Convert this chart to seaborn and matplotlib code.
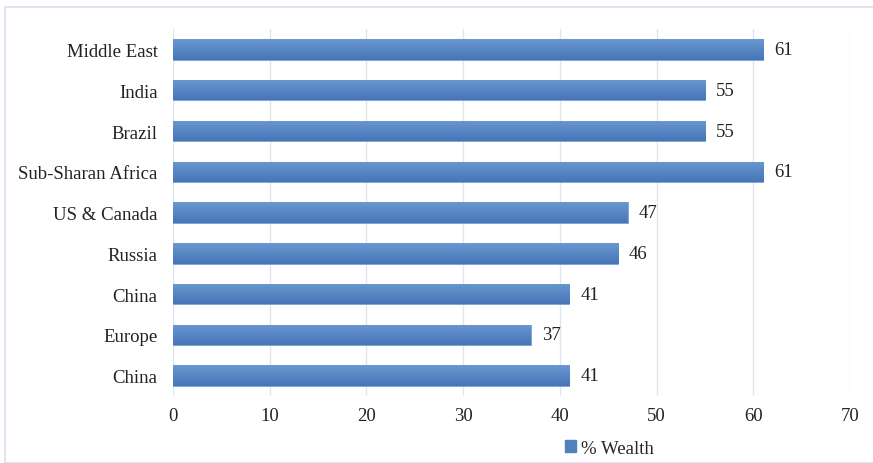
import matplotlib
matplotlib.use("Agg")
import matplotlib.pyplot as plt
import seaborn as sns
import numpy as np
import pandas as pd
from matplotlib.colors import LinearSegmentedColormap
from matplotlib.patches import Patch, Rectangle

regions = ["Middle East", "India", "Brazil", "Sub-Sharan Africa", "US & Canada",
           "Russia", "China", "Europe", "China"]
wealth_pct = [61, 55, 55, 61, 47, 46, 41, 37, 41]
x_ticks = [0, 10, 20, 30, 40, 50, 60, 70]
series_name = "% Wealth"

bar_color = "#4f81bd"
grid_color = "#dce6f2"
shade = LinearSegmentedColormap.from_list("bar_shade", ["#6a98d0", "#5886c4", "#4676b8"])

sns.set_theme(style="white")
plt.rcParams["font.family"] = ["Liberation Serif", "DejaVu Serif"]

# each row gets its own slot so the repeated region name stays a separate bar
df = pd.DataFrame({
    "slot": [str(i) for i in range(len(regions))],
    "value": wealth_pct,
})

fig = plt.figure(figsize=(8.73, 4.64), dpi=100)
ax = fig.add_axes([0.198, 0.1444, 0.7757, 0.7906])

sns.barplot(data=df, x="value", y="slot", orient="h", color=bar_color,
            saturation=1, width=0.5, ax=ax, zorder=3,
            edgecolor="#7aa3d6", linewidth=0.6)

ax.set_xlim(0, 70)
ax.set_ylim(len(regions) - 0.5, -0.5)

# vertical shading inside each bar, clipped to the bar outline
grad = np.linspace(0, 1, 64).reshape(-1, 1)
for bar in ax.patches:
    x0, y0 = bar.get_x(), bar.get_y()
    w, h = bar.get_width(), bar.get_height()
    im = ax.imshow(grad, cmap=shade, aspect="auto", origin="upper",
                   extent=(x0, x0 + w, y0 + h, y0), zorder=3.5,
                   interpolation="bilinear")
    im.set_clip_path(bar)
ax.set_xlim(0, 70)
ax.set_ylim(len(regions) - 0.5, -0.5)

ax.set_xticks(x_ticks)
ax.set_xticklabels([str(t) for t in x_ticks], fontsize=13.5, color="#222222")
ax.set_yticks(range(len(regions)))
ax.set_yticklabels(regions, fontsize=13.5, color="#222222")
ax.tick_params(axis="x", length=0, pad=8)
ax.tick_params(axis="y", length=0, pad=11)
ax.set_xlabel("")
ax.set_ylabel("")
ax.xaxis.grid(True, color=grid_color, linewidth=1.0, zorder=0)
ax.yaxis.grid(False)
for s in ax.spines.values():
    s.set_visible(False)

for container in ax.containers:
    ax.bar_label(container, labels=[str(v) for v in wealth_pct],
                 padding=8, fontsize=13.5, color="#222222")

handle = Patch(facecolor=bar_color, edgecolor=bar_color)
fig.legend([handle], [series_name], loc="center", bbox_to_anchor=(0.698, 0.032),
           frameon=False, fontsize=13.5, handlelength=0.6, handleheight=0.6,
           handletextpad=0.3, borderaxespad=0)

# light outline around the chart area
fig.add_artist(Rectangle((5 / 873, 0.0), 1.0, 1 - 8 / 464,
                         transform=fig.transFigure, fill=False,
                         edgecolor="#d5e0ee", linewidth=1.2))

fig.savefig("out.png", dpi=100, facecolor="white")
